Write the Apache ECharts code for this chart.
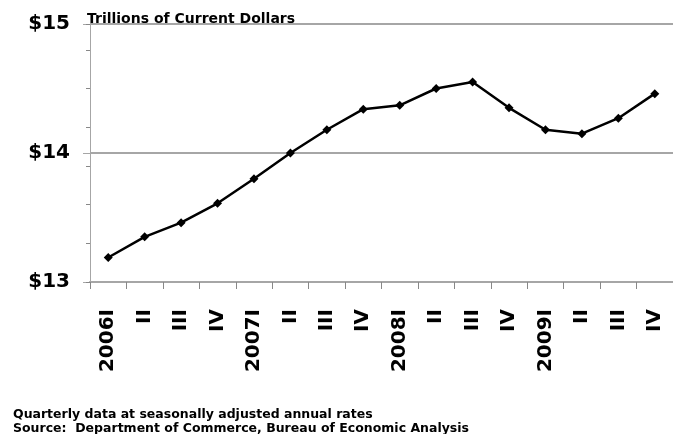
<!DOCTYPE html>
<html><head><meta charset="utf-8">
<script src="https://cdn.jsdelivr.net/npm/echarts@6/dist/echarts.min.js"></script>
<style>html,body{margin:0;padding:0;background:#fff}#c{width:673px;height:434px}</style>
</head><body><div id="c"></div>
<script>
var categories = ['2006I','II','III','IV','2007I','II','III','IV','2008I','II','III','IV','2009I','II','III','IV'];
var gdp = [13.19, 13.35, 13.46, 13.61, 13.80, 14.00, 14.18, 14.34, 14.37, 14.50, 14.55, 14.35, 14.18, 14.15, 14.27, 14.46];
var yTicks = {min: 13, max: 15, step: 1, minorStep: 0.3};
var titleText = 'Trillions of Current Dollars';
var notes = ['Quarterly data at seasonally adjusted annual rates', 'Source:  Department of Commerce, Bureau of Economic Analysis'];

var F = '"DejaVu Sans", sans-serif';
var chart = echarts.init(document.getElementById('c'), null, {renderer: 'canvas'});
chart.setOption({
  animation: false,
  backgroundColor: '#fff',
  title: [
    {text: titleText, left: 82, top: 7, textStyle: {fontFamily: F, fontWeight: 'bold', fontSize: 14, color: '#000'}},
    {text: notes.join('\n'), left: 8, top: 403, textStyle: {fontFamily: F, fontWeight: 'bold', fontSize: 12.5, color: '#000', lineHeight: 14}}
  ],
  grid: {left: 90, top: 24, width: 587, height: 258, containLabel: false},
  xAxis: {
    type: 'category', data: categories, boundaryGap: true,
    axisLine: {lineStyle: {color: '#a6a6a6', width: 2}},
    axisTick: {show: true, length: 7, lineStyle: {color: '#888', width: 1}},
    axisLabel: {rotate: 90, margin: 27, interval: 0, fontFamily: F, fontWeight: 'bold', fontSize: 20, color: '#000'}
  },
  yAxis: [
    {
      type: 'value', min: yTicks.min, max: yTicks.max, interval: yTicks.step, position: 'left',
      axisLine: {show: true, lineStyle: {color: '#a6a6a6', width: 1}},
      axisTick: {show: true, length: 7, lineStyle: {color: '#a6a6a6'}},
      splitLine: {show: true, lineStyle: {color: '#a6a6a6', width: 2}},
      axisLabel: {margin: 20, fontFamily: F, fontWeight: 'bold', fontSize: 20, color: '#000', formatter: function(v){return '$' + v;}}
    },
    {
      type: 'value', min: yTicks.min, max: yTicks.max, interval: yTicks.minorStep, position: 'left', offset: 0,
      axisLine: {show: false}, axisTick: {show: true, length: 4, lineStyle: {color: '#888'}},
      splitLine: {show: false}, axisLabel: {show: false}
    }
  ],
  series: [{
    type: 'line', data: gdp, yAxisIndex: 0,
    symbol: 'diamond', symbolSize: 9,
    lineStyle: {color: '#000', width: 2.5},
    itemStyle: {color: '#000'}
  }]
});
</script></body></html>
